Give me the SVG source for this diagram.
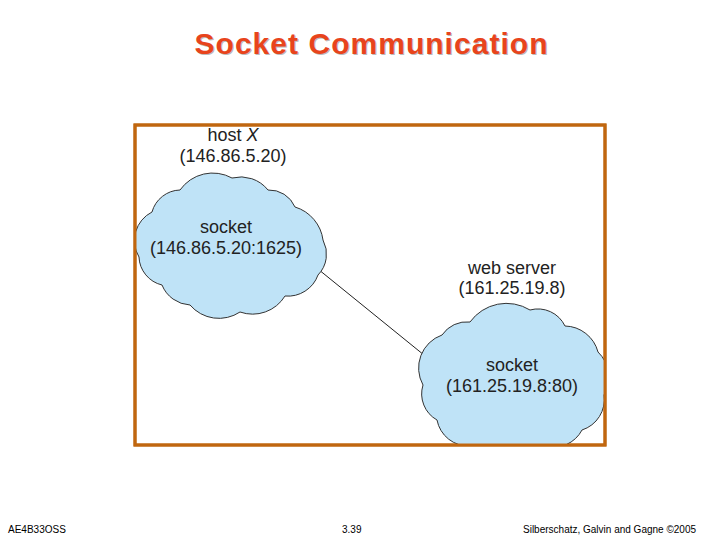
<svg xmlns="http://www.w3.org/2000/svg" width="720" height="540" viewBox="0 0 720 540">
<style>
.t{font-family:"Liberation Sans",Arial,sans-serif;font-size:18px;fill:#222;text-anchor:middle}
.cl{fill:#bfe3f7;stroke:#333;stroke-width:1}
.f{font-family:"Liberation Sans",Arial,sans-serif;font-size:10px;fill:#000}
</style>
<defs><clipPath id="bx"><rect x="136" y="126" width="468" height="318"/></clipPath></defs>
<rect width="720" height="540" fill="#fff"/>
<text x="372" y="55" font-family="Liberation Sans,Arial,sans-serif" font-size="30" font-weight="bold" fill="#bbb" text-anchor="middle" textLength="353">Socket Communication</text>
<text x="371" y="54" font-family="Liberation Sans,Arial,sans-serif" font-size="30" font-weight="bold" fill="#e8441c" text-anchor="middle" textLength="353">Socket Communication</text>
<rect x="135" y="125" width="470" height="320" fill="#fff" stroke="#c0660f" stroke-width="3"/>
<g id="connectors"><line x1="313" y1="265" x2="440" y2="368" stroke="#222" stroke-width="1"/></g>
<g id="hostX">
<text class="t" x="233" y="141">host <tspan font-style="italic">X</tspan></text>
<text class="t" x="233" y="162">(146.86.5.20)</text>
</g>
<g id="socket1">
<path class="cl" d="M152,212 A30,30 0 0 1 180,190 A40,40 0 0 1 232,178 A35,35 0 0 1 268,190 A28,28 0 0 1 295,207 A40,40 0 0 1 323,240 A30,30 0 0 1 318,275 A32,32 0 0 1 285,296 A38,38 0 0 1 240,312 A38,38 0 0 1 190,305 A32,32 0 0 1 162,285 A30,30 0 0 1 139,257 A32,32 0 0 1 152,212 Z"/>
<text class="t" x="226" y="233">socket</text>
<text class="t" x="226" y="254">(146.86.5.20:1625)</text>
</g>
<g id="webserver">
<text class="t" x="512" y="274">web server</text>
<text class="t" x="512" y="294">(161.25.19.8)</text>
</g>
<g id="socket2" clip-path="url(#bx)">
<path class="cl" d="M442,335 A30,30 0 0 1 470,322 A45,45 0 0 1 530,310 A30,30 0 0 1 565,326 A35,35 0 0 1 598,352 A35,35 0 0 1 604,395 A32,32 0 0 1 582,430 A32,32 0 0 1 545,446 L470,446 A32,32 0 0 1 437,420 A30,30 0 0 1 423,385 A35,35 0 0 1 442,335 Z"/>
<text class="t" x="512" y="371">socket</text>
<text class="t" x="512" y="392">(161.25.19.8:80)</text>
</g>
<rect x="135" y="125" width="470" height="320" fill="none" stroke="#c0660f" stroke-width="3"/>
<text class="f" x="8" y="533">AE4B33OSS</text>
<text class="f" x="342" y="533">3.39</text>
<text class="f" x="523" y="533">Silberschatz, Galvin and Gagne ©2005</text>
</svg>
